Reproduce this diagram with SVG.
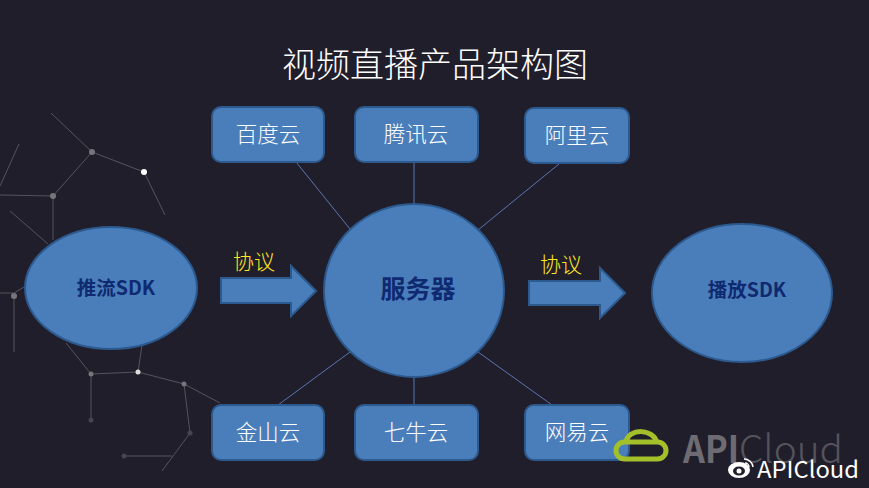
<svg xmlns="http://www.w3.org/2000/svg" width="869" height="488" viewBox="0 0 869 488">
<style>
text{font-family:"Noto Sans CJK SC","Liberation Sans",sans-serif}
.box{fill:#4a7ebb;stroke:#2c5a8e;stroke-width:2}
.lab{fill:#fff;font-size:21.5px;text-anchor:middle;font-weight:300}
.dark{fill:#0f2a70;font-weight:700;text-anchor:middle}
.link{stroke:#5a76b0;stroke-width:1;fill:none}
.yel{fill:#ffe820;font-size:21px;font-weight:300;text-anchor:middle}
.w{stroke:#55535c;stroke-width:1;fill:none}
</style>
<rect width="869" height="488" fill="#211e2b"/>
<g id="background-network">
<path class="w" d="M51 113L92 152L144 172L165 215M92 152L53 196L0 195M53 196V240M19 144L0 186M10 211L48 244M14 296V352M0 293H14L24 287M66 343L91 374L138 372L142 345M91 374V420M138 372L184 384L190 433L162 471M184 384L220 403M125 456H172"/>
<g fill="#77757c"><circle cx="92" cy="152" r="3"/><circle cx="53" cy="196" r="3"/><circle cx="14" cy="296" r="3"/><circle cx="91" cy="374" r="2.5"/><circle cx="184" cy="384" r="2.5"/></g>
<g fill="#47454e"><circle cx="91" cy="420" r="2.5"/><circle cx="190" cy="433" r="2.5"/><circle cx="124" cy="456" r="2.5"/></g>
<circle cx="144" cy="172" r="3" fill="#fff"/><circle cx="138" cy="372" r="2.5" fill="#ddd"/>
</g>
<g id="connectors">
<path class="link" d="M296 162L350 229M414 162V205M559 164L478 230M350 352L278 405M414 376V405M478 352L552 405"/>
</g>
<text x="435" y="77" font-size="34" font-weight="300" fill="#fff" text-anchor="middle">视频直播产品架构图</text>
<g id="push-sdk"><ellipse class="box" cx="111" cy="288" rx="86" ry="61"/><text class="dark" x="116" y="295" font-size="19.5">推流SDK</text></g>
<g id="server"><ellipse class="box" cx="414" cy="290.500" rx="90" ry="86.500"/><text class="dark" x="418" y="298" font-size="25">服务器</text></g>
<g id="play-sdk"><ellipse class="box" cx="742" cy="293" rx="90" ry="69"/><text class="dark" x="747" y="297" font-size="19.500">播放SDK</text></g>
<g id="baidu"><rect class="box" x="212" y="107" width="112" height="55" rx="9"/><text class="lab" x="268" y="142">百度云</text></g>
<g id="tencent"><rect class="box" x="355" y="107" width="123" height="55" rx="9"/><text class="lab" x="416" y="142">腾讯云</text></g>
<g id="ali"><rect class="box" x="525" y="108" width="104" height="55" rx="9"/><text class="lab" x="577" y="143">阿里云</text></g>
<g id="kingsoft"><rect class="box" x="212" y="405" width="112" height="55" rx="9"/><text class="lab" x="268" y="440">金山云</text></g>
<g id="qiniu"><rect class="box" x="355" y="405" width="123" height="55" rx="9"/><text class="lab" x="416" y="440">七牛云</text></g>
<g id="netease"><rect class="box" x="525" y="405" width="104" height="55" rx="9"/><text class="lab" x="577" y="440">网易云</text></g>
<g id="arrow-left"><path class="box" stroke-width="1" d="M221 278H291V266L316 291L291 316V303H221Z"/><text class="yel" x="254" y="269">协议</text></g>
<g id="arrow-right"><path class="box" stroke-width="1" d="M529 281H600V268L625 293L600 318V305H529Z"/><text class="yel" x="561" y="272">协议</text></g>
<g id="watermark">
<g fill="none" stroke="#a3c02a" stroke-width="5"><rect x="616" y="442" width="50" height="17" rx="8.500"/><path d="M626 442C628 428 654 428 657 443"/></g>
<text x="683" y="463" font-size="38" font-family="Liberation Sans" fill="#6e6c72" font-weight="700" textLength="56" lengthAdjust="spacingAndGlyphs">API</text>
<text x="739" y="463" font-size="38" fill="#55535c" font-weight="300" textLength="104" lengthAdjust="spacingAndGlyphs">Cloud</text>
<ellipse cx="739" cy="470" rx="11" ry="8" fill="#fff"/><ellipse cx="739" cy="471" rx="6" ry="4.500" fill="#211e2b"/><circle cx="739" cy="471" r="2.500" fill="#fff"/>
<path d="M744 459a9 9 0 0 1 9 8M745 463a4 4 0 0 1 4 4" fill="none" stroke="#fff" stroke-width="1.500"/>
<text x="757" y="478" font-size="23" fill="#fff" textLength="102" lengthAdjust="spacingAndGlyphs">APICloud</text>
</g>
</svg>
